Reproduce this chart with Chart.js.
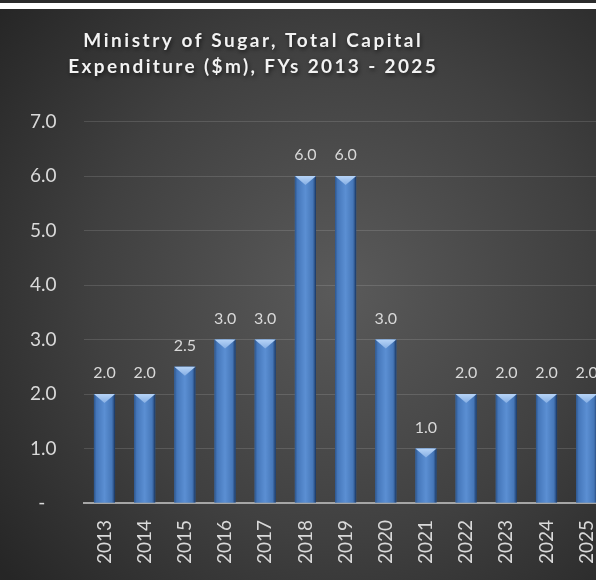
<!DOCTYPE html>
<html>
<head>
<meta charset="utf-8">
<script src="https://cdn.jsdelivr.net/npm/chart.js@4/dist/chart.umd.min.js"></script>
<style>
  html, body { margin: 0; padding: 0; background: #ffffff; overflow: hidden; width: 596px; height: 581px; }
  #topband { position: absolute; left: 0; top: 0; width: 596px; height: 3px; background: #2b2b2b; }
  #wrap { position: absolute; left: 0; top: 9px; width: 627px; height: 571px; }
</style>
</head>
<body>
<div id="topband"></div>
<div id="wrap"><canvas id="c" width="627" height="571"></canvas></div>
<script>
// Fiscal years and total capital expenditure ($m)
const years = ['2013', '2014', '2015', '2016', '2017', '2018', '2019', '2020', '2021', '2022', '2023', '2024', '2025'];
const capex = [2.0, 2.0, 2.5, 3.0, 3.0, 6.0, 6.0, 3.0, 1.0, 2.0, 2.0, 2.0, 2.0];
const yTickValues = [0, 1, 2, 3, 4, 5, 6, 7];
const titleLines = ['Ministry of Sugar, Total Capital', 'Expenditure ($m), FYs 2013 - 2025'];

const FONT = 'Lato, "Open Sans", sans-serif';

// Dark radial backdrop plus the two-line title
const backdrop = {
  id: 'backdrop',
  beforeDraw(chart) {
    const ctx = chart.ctx;
    const w = chart.width, h = chart.height;
    ctx.save();
    const g = ctx.createRadialGradient(340, 280, 10, 340, 280, 440);
    g.addColorStop(0, '#595959');
    g.addColorStop(0.55, '#404040');
    g.addColorStop(1, '#262626');
    ctx.fillStyle = g;
    ctx.fillRect(0, 0, w, h);

    ctx.font = 'bold 19px ' + FONT;
    ctx.fillStyle = '#f2f2f2';
    ctx.textAlign = 'center';
    ctx.textBaseline = 'alphabetic';
    ctx.shadowColor = 'rgba(0,0,0,0.6)';
    ctx.shadowBlur = 4;
    ctx.shadowOffsetX = 1;
    ctx.shadowOffsetY = 2;
    const widths = [340, 370];
    const baselines = [38, 64];
    titleLines.forEach((line, i) => {
      ctx.letterSpacing = '0px';
      const w0 = ctx.measureText(line).width;
      const sp = (widths[i] - w0) / line.length;
      ctx.letterSpacing = sp.toFixed(2) + 'px';
      ctx.fillText(line, 252 + sp / 2, baselines[i]);
    });
    ctx.restore();
  }
};

// Bevelled shading over each bar plus value labels above
const barStyle = {
  id: 'barStyle',
  afterDatasetsDraw(chart) {
    const ctx = chart.ctx;
    const meta = chart.getDatasetMeta(0);
    ctx.save();
    meta.data.forEach((bar, i) => {
      const { x, y, base, width } = bar.getProps(['x', 'y', 'base', 'width'], true);
      const l = x - width / 2, r = x + width / 2;
      const g = ctx.createLinearGradient(l, 0, r, 0);
      g.addColorStop(0, '#2d558c');
      g.addColorStop(0.12, '#4577ba');
      g.addColorStop(0.5, '#5b8fd3');
      g.addColorStop(0.85, '#4677b8');
      g.addColorStop(0.94, '#2c5288');
      g.addColorStop(1, '#16325a');
      ctx.fillStyle = g;
      ctx.fillRect(l, y, width, base - y);

      const d = Math.min(9, (base - y) / 2);
      const tg = ctx.createLinearGradient(0, y, 0, y + d);
      tg.addColorStop(0, '#b7d4f7');
      tg.addColorStop(1, '#86afe4');
      ctx.fillStyle = tg;
      ctx.beginPath();
      ctx.moveTo(l, y);
      ctx.lineTo(r, y);
      ctx.lineTo(x, y + d);
      ctx.closePath();
      ctx.fill();

      ctx.font = '16px ' + FONT;
      ctx.fillStyle = '#d9d9d9';
      ctx.textAlign = 'center';
      ctx.textBaseline = 'alphabetic';
      ctx.fillText(capex[i].toFixed(1), x, y - 16);
    });
    ctx.restore();
  }
};

new Chart(document.getElementById('c'), {
  type: 'bar',
  data: {
    labels: years,
    datasets: [{
      data: capex,
      backgroundColor: '#4f81bd',
      borderWidth: 0,
      barPercentage: 0.525,
      categoryPercentage: 1
    }]
  },
  options: {
    responsive: false,
    animation: false,
    events: [],
    layout: { padding: { top: 112.5, right: 13, left: 0, bottom: 0 } },
    plugins: {
      legend: { display: false },
      title: { display: false },
      tooltip: { enabled: false }
    },
    scales: {
      x: {
        grid: { display: false, drawTicks: false },
        border: { color: '#a6a6a6', width: 2 },
        ticks: {
          color: '#d9d9d9',
          font: { family: FONT, size: 19 },
          minRotation: 90,
          maxRotation: 90,
          padding: 17,
          autoSkip: false
        },
        afterFit(scale) { scale.height = 77; }
      },
      y: {
        min: 0,
        max: 7,
        afterBuildTicks(scale) { scale.ticks = yTickValues.map(v => ({ value: v })); },
        grid: { color: 'rgba(255,255,255,0.13)', lineWidth: 1, drawTicks: false },
        border: { display: false },
        ticks: {
          color: '#d9d9d9',
          font: { family: FONT, size: 19 },
          padding: 28,
          callback: (v) => v === 0 ? '-\u2007' : Number(v).toFixed(1)
        },
        afterFit(scale) { scale.width = 84.4; }
      }
    }
  },
  plugins: [backdrop, barStyle]
});
</script>
</body>
</html>
